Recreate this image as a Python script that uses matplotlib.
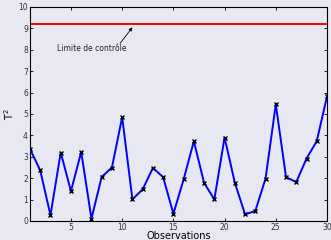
import matplotlib
matplotlib.use("Agg")
import matplotlib.pyplot as plt

observations = list(range(1, 31))
t2_values = [3.37, 2.36, 0.27, 3.20, 1.39, 3.23, 0.11, 2.06, 2.50, 4.85,
             1.01, 1.48, 2.48, 2.05, 0.34, 1.94, 3.73, 1.78, 1.01, 3.90,
             1.79, 0.31, 0.47, 1.98, 5.45, 2.05, 1.82, 2.92, 3.73, 5.82]
control_limit = 9.2
x_ticks = [5, 10, 15, 20, 25, 30]
y_ticks = list(range(0, 11))

bg = "#E8E8F2"
fig = plt.figure(figsize=(3.31, 2.40), dpi=100, facecolor=bg)
ax = fig.add_axes([30/331, 1 - 221/240, 297/331, 214/240], facecolor=bg)

ax.plot(observations, t2_values, color="#0000FF", lw=1.4, marker="x",
        markersize=3.5, markeredgecolor="black", markeredgewidth=1.0, zorder=3)
ax.axhline(control_limit, color="red", lw=1.4)
ax.text(3.6, 8.05, "Limite de contrôle", fontsize=5.5, color="#222222",
        va="center", ha="left")
ax.annotate("", xy=(11.0, 9.05), xytext=(9.8, 8.3),
            arrowprops=dict(arrowstyle="-|>", color="black", lw=0.6,
                            mutation_scale=5, shrinkA=0, shrinkB=0))

ax.set_xlim(1, 30)
ax.set_ylim(0, 10)
ax.set_xticks(x_ticks)
ax.set_yticks(y_ticks)
ax.tick_params(direction="in", length=2.5, width=0.6, labelsize=5.5,
               top=True, right=True, pad=1.5, colors="black", labelcolor="#333333")
for s in ax.spines.values():
    s.set_linewidth(0.8)
ax.set_xlabel("Observations", fontsize=7)
ax.xaxis.set_label_coords(0.5, -(236.5 - 221) / 214)
ax.xaxis.label.set_va("center")
ax.set_ylabel("T$^2$", fontsize=7, labelpad=2)

fig.savefig("out.png", dpi=100, facecolor=bg)
